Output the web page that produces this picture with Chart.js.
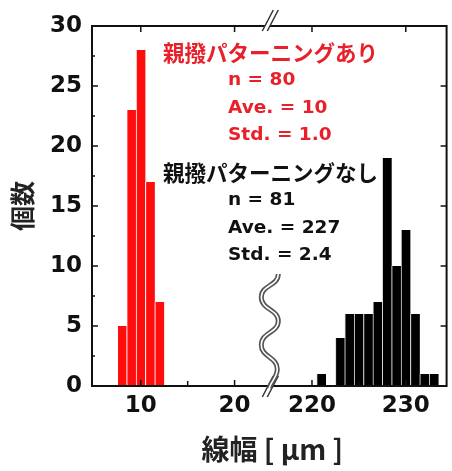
<!DOCTYPE html>
<html>
<head>
<meta charset="utf-8">
<script src="https://cdn.jsdelivr.net/npm/chart.js@4.4.1/dist/chart.umd.min.js"></script>
<style>
  html, body { margin: 0; padding: 0; background: #fff; }
  #wrap { width: 452px; height: 471px; }
</style>
</head>
<body>
<div id="wrap"><canvas id="c" width="452" height="471"></canvas></div>
<script>
// line width histogram, two groups on a broken x axis
const redWidths = [8, 9, 10, 11, 12];
const redCounts = [5, 23, 28, 17, 7];
const blackWidths = [221, 223, 224, 225, 226, 227, 228, 229, 230, 231, 232, 233];
const blackCounts = [1, 4, 6, 6, 6, 7, 19, 10, 13, 6, 1, 1];

const yTicks = [0, 5, 10, 15, 20, 25, 30];
const leftTicks = [10, 20];
const rightTicks = [220, 230];
const leftMinor = [15];
const rightMinor = [225];

const redNote = ['親撥パターニングあり', 'n = 80', 'Ave. = 10', 'Std. = 1.0'];
const blackNote = ['親撥パターニングなし', 'n = 81', 'Ave. = 227', 'Std. = 2.4'];
const xTitle = '線幅 [ μm ]';
const yTitle = '個数';

const RED = '#ff0d0d';
const INK = '#111';
const NUM_FONT = 'DejaVu Sans';
const JP_FONT = '"Noto Sans CJK JP"';

function toPoints(xs, ys) {
  return xs.map((x, i) => ({ x: x, y: ys[i] }));
}

function xScale(min, max, ticks) {
  return {
    type: 'linear',
    position: 'bottom',
    stack: 'x',
    stackWeight: 1,
    min: min,
    max: max,
    offset: false,
    grid: { display: false, drawTicks: false, offset: false },
    border: { display: false },
    ticks: {
      color: INK,
      padding: 6,
      maxRotation: 0,
      font: { family: NUM_FONT, size: 23, weight: 'bold' }
    },
    afterBuildTicks: s => { s.ticks = ticks.map(v => ({ value: v })); },
    afterFit: s => { s.height = 85; }
  };
}

const framePlugin = {
  id: 'frame',
  afterDraw(chart) {
    const ctx = chart.ctx;
    const a = chart.chartArea;
    const xl = chart.scales.xl, xr = chart.scales.xr, y = chart.scales.y;
    ctx.save();

    // box
    ctx.strokeStyle = INK;
    ctx.lineWidth = 2;
    ctx.strokeRect(a.left, a.top, a.right - a.left, a.bottom - a.top);

    // inner ticks
    ctx.lineWidth = 1.5;
    ctx.beginPath();
    for (let v = 0; v <= 30; v += 2.5) {
      const py = y.getPixelForValue(v);
      const len = v % 5 === 0 ? 6 : 3;
      ctx.moveTo(a.left, py); ctx.lineTo(a.left + len, py);
      if (v % 5 === 0) { ctx.moveTo(a.right, py); ctx.lineTo(a.right - 6, py); }
    }
    [[xl, leftTicks, leftMinor], [xr, rightTicks, rightMinor]].forEach(([s, major, minor]) => {
      major.forEach(v => {
        const px = s.getPixelForValue(v);
        ctx.moveTo(px, a.bottom); ctx.lineTo(px, a.bottom - 6);
        ctx.moveTo(px, a.top); ctx.lineTo(px, a.top + 6);
      });
      minor.forEach(v => {
        const px = s.getPixelForValue(v);
        ctx.moveTo(px, a.bottom); ctx.lineTo(px, a.bottom - 5);
      });
    });
    ctx.stroke();

    // axis break marks
    const X = xl.right;
    function slashes(yc) {
      ctx.fillStyle = '#fff';
      ctx.beginPath();
      ctx.moveTo(X - 7, yc + 10); ctx.lineTo(X + 4, yc - 11);
      ctx.lineTo(X + 9, yc - 11); ctx.lineTo(X - 2, yc + 10);
      ctx.closePath(); ctx.fill();
      ctx.strokeStyle = '#333';
      ctx.lineWidth = 1.5;
      ctx.beginPath();
      ctx.moveTo(X - 7, yc + 10); ctx.lineTo(X + 4, yc - 11);
      ctx.moveTo(X - 2, yc + 10); ctx.lineTo(X + 9, yc - 11);
      ctx.stroke();
    }
    slashes(a.top - 5);
    slashes(a.bottom + 1);

    // wavy double line
    const R = X + 9, L = X - 8;
    ctx.beginPath();
    ctx.moveTo(R, 274);
    ctx.bezierCurveTo(R, 286, L, 285, L, 297);
    ctx.bezierCurveTo(L, 310, R, 309, R, 321);
    ctx.bezierCurveTo(R, 333, L, 332, L, 345);
    ctx.bezierCurveTo(L, 357, R - 1, 357, R - 1, 369);
    ctx.bezierCurveTo(R - 1, 377, X + 2, 381, X, 388);
    ctx.strokeStyle = '#555';
    ctx.lineWidth = 5;
    ctx.stroke();
    ctx.strokeStyle = '#fff';
    ctx.lineWidth = 1.6;
    ctx.stroke();

    // notes
    ctx.textBaseline = 'middle';
    ctx.textAlign = 'left';
    function note(lines, color, y0) {
      ctx.fillStyle = color;
      ctx.font = 'bold 21.5px ' + JP_FONT;
      ctx.fillText(lines[0], 163, y0);
      ctx.font = 'bold 18.5px ' + NUM_FONT;
      for (let i = 1; i < lines.length; i++) {
        ctx.fillText(lines[i], 228, y0 + 27.5 * i);
      }
    }
    note(redNote, '#e8202a', 53);
    note(blackNote, INK, 173);

    // x title
    ctx.fillStyle = '#222';
    ctx.textAlign = 'center';
    ctx.font = 'bold 28px ' + JP_FONT;
    ctx.fillText(xTitle, (a.left + a.right) / 2 + 3, 449);

    ctx.restore();
  }
};

new Chart(document.getElementById('c'), {
  type: 'bar',
  data: {
    datasets: [
      {
        data: toPoints(redWidths, redCounts),
        xAxisID: 'xl',
        yAxisID: 'y',
        grouped: false,
        backgroundColor: RED,
        borderColor: '#fff',
        borderWidth: { left: 1, right: 0, top: 0, bottom: 0 },
        barPercentage: 1,
        categoryPercentage: 1
      },
      {
        data: toPoints(blackWidths, blackCounts),
        xAxisID: 'xr',
        yAxisID: 'y',
        grouped: false,
        backgroundColor: '#000',
        borderColor: '#d8d8d8',
        borderWidth: { left: 1, right: 0, top: 0, bottom: 0 },
        barPercentage: 1,
        categoryPercentage: 1
      }
    ]
  },
  options: {
    responsive: false,
    animation: false,
    layout: { padding: { top: 26, right: 3, left: 0, bottom: 0 } },
    plugins: { legend: { display: false }, tooltip: { enabled: false } },
    scales: {
      xl: xScale(4.8, 23.7, leftTicks),
      xr: xScale(215.45, 234.35, rightTicks),
      y: {
        type: 'linear',
        position: 'left',
        min: 0,
        max: 30,
        grid: { display: false, drawTicks: false },
        border: { display: false },
        ticks: {
          color: INK,
          padding: 10,
          font: { family: NUM_FONT, size: 23, weight: 'bold' }
        },
        afterBuildTicks: s => { s.ticks = yTicks.map(v => ({ value: v })); },
        title: {
          display: true,
          text: yTitle,
          color: '#222',
          padding: { top: 7, bottom: 0 },
          font: { family: JP_FONT, size: 25, weight: 'bold' }
        },
        afterFit: s => { s.width = 92; }
      }
    }
  },
  plugins: [framePlugin]
});
</script>
</body>
</html>
